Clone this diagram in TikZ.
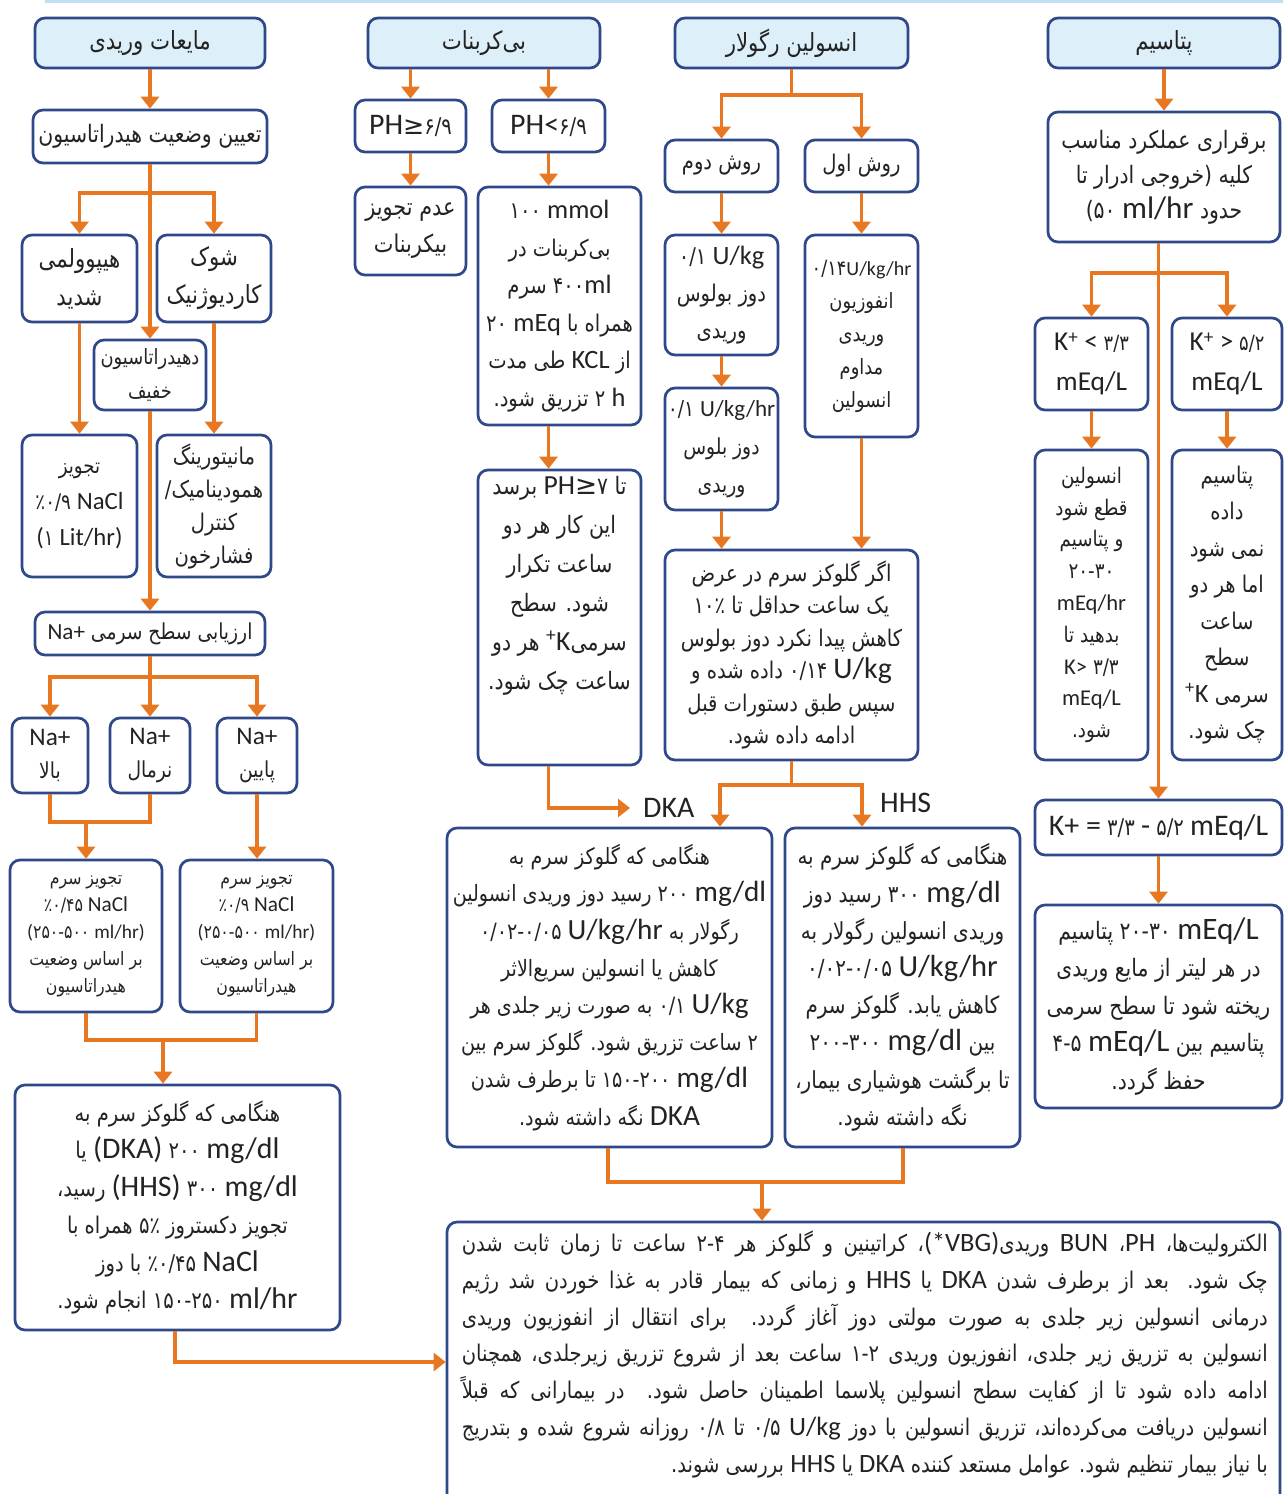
\documentclass[tikz,border=0pt]{standalone}
\usepackage{fontspec}
\usepackage{graphicx}
\setmainfont{Carlito}
\newfontfamily\fa[Script=Arabic,FakeStretch=0.85,HyphenChar=None]{DejaVu Sans}
\newfontfamily\latf[Scale=1.3]{Carlito}
\newfontfamily\latm[Scale=1.15]{Carlito}
\newfontfamily\latg[Scale=1.05]{Carlito}
\newfontfamily\latt[Scale=0.95]{Carlito}
\newfontfamily\dvs[Scale=1.1]{DejaVu Sans}
\usetikzlibrary{arrows.meta}
\TeXXeTstate=1
\newcommand\rl[1]{{\fa\beginR #1\endR}}
\newcommand\lr[1]{{\fa\beginL #1\endL}}
\newcommand\en[1]{{\latf #1}}
\newcommand\enm[1]{{\latm #1}}
\newcommand\ens[1]{{\latg #1}}
\newcommand\ent[1]{{\latt #1}}
\newcommand\fs[2]{\fontsize{#1}{#2}\selectfont}
\newcommand\kp{K\textsuperscript{+}}
\newcommand\fl[1]{\sbox0{#1}\ifdim\wd0>806pt\resizebox{806pt}{!}{\usebox0}\else\makebox[806pt][s]{#1}\fi}
\definecolor{bc}{RGB}{46,72,138}
\definecolor{hb}{RGB}{221,240,250}
\definecolor{oc}{RGB}{232,119,34}
\definecolor{topc}{RGB}{196,222,242}
\definecolor{txt}{RGB}{35,35,35}
\tikzset{
 box/.style={draw=bc,line width=2.7pt,rounded corners=10pt,fill=white,align=center,inner sep=1pt,text=txt,font=\fs{23}{37}},
 hdr/.style={box,fill=hb,font=\fs{25}{30}},
 arr/.style={draw=oc,line width=3.6pt,-{Triangle[length=12pt,width=18pt]}},
 ln/.style={draw=oc,line width=3.6pt},
 lbl/.style={text=txt,font=\fs{23}{28}\latf,inner sep=0pt},
 free/.style={text=txt,align=center,inner sep=0pt},
}
\newcommand\bx[7][]{\node[box,#1,minimum width={(#5-#3)*1pt},minimum height={(#6-#4)*1pt}] (#2) at ({(#3+#5)/2},{(#4+#6)/2}) {#7};}
\begin{document}
\begin{tikzpicture}[x=1pt,y=-1pt]
\useasboundingbox (0,0) rectangle (1283,1494);
\fill[white] (0,0) rectangle (1283,1494);
\draw[topc,line width=3pt] (45,1.5) -- (1283,1.5);
% ---------------- column A
\bx[hdr]{a1}{35}{18}{265}{68}{\rl{مایعات وریدی}}
\bx[font=\fs{24}{30}]{a2}{33}{110}{267}{163}{\rl{تعیین وضعیت هیدراتاسیون}}
\bx[font=\fs{25}{38}]{a3}{22}{235}{137}{322}{\rl{هیپوولمی}\\\rl{شدید}}
\bx[font=\fs{25}{38}]{a4}{157}{235}{271}{322}{\rl{شوک}\\\rl{کاردیوژنیک}}
\bx[font=\fs{21}{34}]{a5}{94}{340}{206}{410}{\rl{دهیدراتاسیون}\\\rl{خفیف}}
\bx[font=\fs{21.5}{36}]{a6}{22}{435}{137}{577}{\rl{تجویز}\\\lr{٪۰/۹ \enm{NaCl}}\\\lr{\enm{(}۱ \enm{Lit/hr)}}}
\bx[font=\fs{23}{33}]{a7}{157}{435}{271}{577}{\rl{مانیتورینگ}\\\rl{همودینامیک/}\\\rl{کنترل}\\\rl{فشارخون}}
\bx[font=\fs{22}{30}]{a8}{35}{612}{265}{655}{\rl{ارزیابی سطح سرمی \ens{Na+}}}
\bx[font=\fs{22}{33}]{a9}{12}{718}{88}{793}{\enm{Na+}\\\rl{بالا}}
\bx[font=\fs{22}{33}]{a10}{110}{718}{190}{793}{\enm{Na+}\\\rl{نرمال}}
\bx[font=\fs{22}{33}]{a11}{217}{718}{297}{793}{\enm{Na+}\\\rl{پایین}}
\bx[font=\fs{18.5}{27}]{a12}{10}{860}{162}{1012}{\rl{تجویز سرم}\\\lr{٪۰/۴۵ \enm{NaCl}}\\\lr{\ens{(}۲۵۰-۵۰۰ \ens{ml/hr)}}\\\rl{بر اساس وضعیت}\\\rl{هیدراتاسیون}}
\bx[font=\fs{18.5}{27}]{a13}{180}{860}{333}{1012}{\rl{تجویز سرم}\\\lr{٪۰/۹ \enm{NaCl}}\\\lr{\ens{(}۲۵۰-۵۰۰ \ens{ml/hr)}}\\\rl{بر اساس وضعیت}\\\rl{هیدراتاسیون}}
\bx[font=\fs{23}{37.5}]{a14}{15}{1085}{340}{1330}{\rl{هنگامی که گلوکز سرم به}\\\rl{\lr{۲۰۰ \en{mg/dl}} \en{(DKA)} یا}\\\rl{\lr{۳۰۰ \en{mg/dl}} \en{(HHS)} رسید،}\\\rl{تجویز دکستروز ۵٪ همراه با}\\\rl{\lr{٪۰/۴۵ \en{NaCl}} با دوز}\\\rl{\lr{۱۵۰-۲۵۰ \en{ml/hr}} انجام شود.}}
% ---------------- column B
\bx[hdr]{b1}{368}{18}{600}{68}{\rl{بی^^^^200cکربنات}}
\bx{b2}{355}{100}{466}{152}{\lr{\en{PH}{\dvs ≥}۶/۹}}
\bx{b3}{492}{100}{605}{152}{\lr{\en{PH<}۶/۹}}
\bx[font=\fs{24.5}{37}]{b4}{355}{187}{466}{275}{\rl{عدم تجویز}\\\rl{بیکربنات}}
\bx[font=\fs{23}{37.5}]{b5}{478}{187}{641}{425}{\lr{۱۰۰ \enm{mmol}}\\\rl{بی^^^^200cکربنات در}\\\rl{\lr{۴۰۰\enm{ml}} سرم}\\\rl{همراه با \lr{۲۰ \enm{mEq}}}\\\rl{از \enm{KCL} طی مدت}\\\rl{\enm{h} ۲ تزریق شود.}}
\bx{b6}{478}{470}{641}{765}{}
\node[free,font=\fs{24}{39},anchor=north] (b6t) at (559.5,476) {\rl{تا \lr{\enm{PH}{\dvs ≥}۷} برسد}\\\rl{این کار هر دو}\\\rl{ساعت تکرار}\\\rl{شود. سطح}\\\rl{سرمی\enm{\kp} هر دو}\\\rl{ساعت چک شود.}};
% ---------------- column C
\bx[hdr]{c1}{675}{18}{908}{68}{\rl{انسولین رگولار}}
\bx{c2}{665}{140}{778}{192}{\rl{روش دوم}}
\bx{c3}{805}{140}{918}{192}{\rl{روش اول}}
\bx[font=\fs{23}{37}]{c4}{665}{235}{778}{355}{\lr{۰/۱ \enm{U/kg}}\\\rl{دوز بولوس}\\\rl{وریدی}}
\bx[font=\fs{22}{38}]{c5}{665}{388}{778}{510}{\lr{۰/۱ \ens{U/kg/hr}}\\\rl{دوز بلوس}\\\rl{وریدی}}
\bx[font=\fs{21}{33}]{c6}{805}{235}{918}{437}{\lr{۰/۱۴\ent{U/kg/hr}}\\\rl{انفوزیون}\\\rl{وریدی}\\\rl{مداوم}\\\rl{انسولین}}
\bx[font=\fs{23}{32.5}]{c7}{665}{550}{918}{760}{\rl{اگر گلوکز سرم در عرض}\\\rl{یک ساعت حداقل تا ۱۰٪}\\\rl{کاهش پیدا نکرد دوز بولوس}\\\rl{\lr{۰/۱۴ \en{U/kg}} داده شده و}\\\rl{سپس طبق دستورات قبل}\\\rl{ادامه داده شود.}}
\bx[font=\fs{22.5}{37.2}]{d}{447}{828}{772}{1147}{\rl{هنگامی که گلوکز سرم به}\\\rl{\lr{۲۰۰ \en{mg/dl}} رسید دوز وریدی انسولین}\\\rl{رگولار به \lr{۰/۰۲-۰/۰۵ \en{U/kg/hr}}}\\\rl{کاهش یا انسولین سریع^^^^200cالاثر}\\\rl{\lr{۰/۱ \en{U/kg}} به صورت زیر جلدی هر}\\\rl{۲ ساعت تزریق شود. گلوکز سرم بین}\\\rl{\lr{۱۵۰-۲۰۰ \en{mg/dl}} تا برطرف شدن}\\\rl{\en{DKA} نگه داشته شود.}}
\bx[font=\fs{23.5}{37.2}]{e}{785}{828}{1020}{1147}{\rl{هنگامی که گلوکز سرم به}\\\rl{\lr{۳۰۰ \en{mg/dl}} رسید دوز}\\\rl{وریدی انسولین رگولار به}\\\lr{۰/۰۲-۰/۰۵ \en{U/kg/hr}}\\\rl{کاهش یابد. گلوکز سرم}\\\rl{بین \lr{۲۰۰-۳۰۰ \en{mg/dl}}}\\\rl{تا برگشت هوشیاری بیمار،}\\\rl{نگه داشته شود.}}
% ---------------- column K
\bx[hdr]{k1}{1048}{18}{1280}{68}{\rl{پتاسیم}}
\bx[font=\fs{24}{35}]{k2}{1048}{112}{1280}{242}{\rl{برقراری عملکرد مناسب}\\\rl{کلیه (خروجی ادرار تا}\\\rl{حدود \lr{۵۰ \en{ml/hr}})}}
\bx[font=\fs{21}{40}]{k3}{1035}{318}{1148}{410}{\lr{\en{\kp{} <} ۳/۳}\\\en{mEq/L}}
\bx[font=\fs{21}{40}]{k4}{1172}{318}{1282}{410}{\lr{\en{\kp{} >} ۵/۲}\\\en{mEq/L}}
\bx[font=\fs{21.5}{31.8}]{k5}{1035}{450}{1148}{760}{\rl{انسولین}\\\rl{قطع شود}\\\rl{و پتاسیم}\\\lr{۲۰-۳۰}\\\ens{mEq/hr}\\\rl{بدهید تا}\\\lr{\ens{K>} ۳/۳}\\\ens{mEq/L}\\\rl{شود.}}
\bx[font=\fs{23}{36.5}]{k6}{1172}{450}{1282}{760}{\rl{پتاسیم}\\\rl{داده}\\\rl{نمی شود}\\\rl{اما هر دو}\\\rl{ساعت}\\\rl{سطح}\\\rl{سرمی \enm{\kp}}\\\rl{چک شود.}}
\bx[font=\fs{23}{30}]{k7}{1035}{800}{1282}{855}{\lr{\en{K+ =} ۳/۳ \en{-} ۵/۲ \en{mEq/L}}}
\bx[font=\fs{24}{37.5}]{k8}{1035}{905}{1282}{1108}{\rl{\lr{۲۰-۳۰ \en{mEq/L}} پتاسیم}\\\rl{در هر لیتر از مایع وریدی}\\\rl{ریخته شود تا سطح سرمی}\\\rl{پتاسیم بین \lr{۴-۵ \en{mEq/L}}}\\\rl{حفظ گردد.}}
% ---------------- final box
\bx{f}{447}{1222}{1280}{1515}{}
\node[free,anchor=north east,align=right,font=\fs{23}{36.7}] (ft) at (1268,1231) {%
\fl{\rl{الکترولیت^^^^200cها، \enm{PH}، \enm{BUN} وریدی\enm{(*VBG)}، کراتینین و گلوکز هر ۲-۴ ساعت تا زمان ثابت شدن}}\\
\fl{\rl{چک شود. بعد از برطرف شدن \enm{DKA} یا \enm{HHS} و زمانی که بیمار قادر به غذا خوردن شد رژیم}}\\
\fl{\rl{درمانی انسولین زیر جلدی به صورت مولتی دوز آغاز گردد. برای انتقال از انفوزیون وریدی}}\\
\fl{\rl{انسولین به تزریق زیر جلدی، انفوزیون وریدی ۱-۲ ساعت بعد از شروع تزریق زیرجلدی، همچنان}}\\
\fl{\rl{ادامه داده شود تا از کفایت سطح انسولین پلاسما اطمینان حاصل شود. در بیمارانی که قبلاً}}\\
\fl{\rl{انسولین دریافت می^^^^200cکرده^^^^200cاند، تزریق انسولین با دوز \lr{۰/۵ \enm{U/kg}} تا ۰/۸ روزانه شروع شده و بتدریج}}\\
\rl{با نیاز بیمار تنظیم شود. عوامل مستعد کننده \enm{DKA} یا \enm{HHS} بررسی شوند.}};
% ---------------- labels
\node[lbl,anchor=west,inner xsep=13pt] (dka) at (630,808) {DKA};
\node[lbl,anchor=west] (hhs) at (880,803) {HHS};
% ---------------- connectors A
\coordinate (ja) at (150,193);
\coordinate (jb) at (150,677);
\coordinate (jc) at (86,822);
\coordinate (jd) at (163,1040);
\coordinate (je) at (175,1362);
\draw[arr] (a1.south) -- (a2.north);
\draw[arr] (a2.south) -- (a5.north);
\draw[arr] (ja) -| (a3.north);
\draw[arr] (ja) -| (a4.north);
\draw[arr] (a3.south) -- (a6.north);
\draw[arr] (a4.south) -- (a7.north);
\draw[arr] (a5.south) -- (a8.north);
\draw[arr] (a8.south) -- (a10.north);
\draw[arr] (jb) -| (a9.north);
\draw[arr] (jb) -| (a11.north);
\draw[ln] (a9.south) -- (a9.south |- jc) -- (a10.south |- jc) -- (a10.south);
\draw[arr] (jc) -- (jc |- a12.north);
\draw[arr] (a11.south) -- (a11.south |- a13.north);
\draw[ln] (a12.south) -- (a12.south |- jd) -- (a13.south |- jd) -- (a13.south);
\draw[arr] (jd) -- (jd |- a14.north);
\draw[arr] (je |- a14.south) -- (je) -- (je -| f.west);
% ---------------- connectors B
\draw[arr] (b2.north |- b1.south) -- (b2.north);
\draw[arr] (b3.north |- b1.south) -- (b3.north);
\draw[arr] (b2.south) -- (b4.north);
\draw[arr] (b3.south) -- (b3.south |- b5.north);
\draw[arr] (b3.south |- b5.south) -- (b3.south |- b6.north);
\draw[arr] (b3.south |- b6.south) |- (dka.west);
% ---------------- connectors C
\coordinate (jf) at (791.5,95);
\coordinate (jg) at (791.5,785);
\coordinate (dx) at (720,785);
\coordinate (hx) at (862,785);
\coordinate (dm) at (608,1182);
\coordinate (em) at (903,1182);
\coordinate (jh) at (762,1182);
\draw[ln] (c1.south) -- (jf);
\draw[arr] (jf) -| (c2.north);
\draw[arr] (jf) -| (c3.north);
\draw[arr] (c2.south) -- (c4.north);
\draw[arr] (c4.south) -- (c5.north);
\draw[arr] (c3.south) -- (c6.north);
\draw[arr] (c5.south) -- (c5.south |- c7.north);
\draw[arr] (c6.south) -- (c6.south |- c7.north);
\draw[ln] (c7.south) -- (jg);
\draw[arr] (jg) -| (dx |- d.north);
\draw[arr] (jg) -| (hx |- e.north);
\draw[ln] (dm |- d.south) -- (dm) -- (em) -- (em |- e.south);
\draw[arr] (jh) -- (jh |- f.north);
% ---------------- connectors K
\coordinate (jk) at (1159,273);
\draw[arr] (k1.south) -- (k2.north);
\draw[arr] (k7.north |- k2.south) -- (k7.north);
\draw[arr] (jk) -| (k3.north);
\draw[arr] (jk) -| (k4.north);
\draw[arr] (k3.south) -- (k5.north);
\draw[arr] (k4.south) -- (k6.north);
\draw[arr] (k7.south) -- (k8.north);
\end{tikzpicture}
\end{document}
